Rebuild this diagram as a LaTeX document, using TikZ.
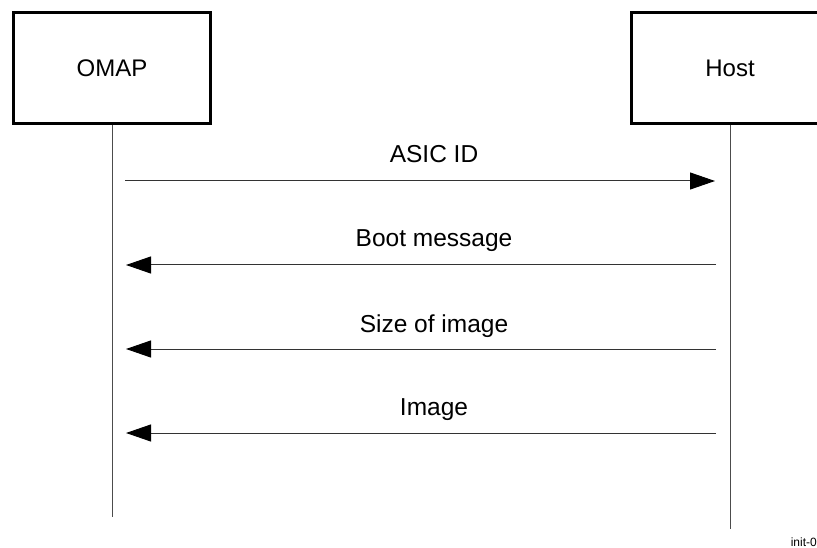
\documentclass[tikz,border=0pt]{standalone}
\usepackage{fontspec}
\setmainfont{Liberation Sans}
\usetikzlibrary{arrows.meta}
\tikzset{
  actor/.style={draw=black, line width=3bp, minimum width=197bp, minimum height=111bp, inner sep=0pt, font=\fontsize{24bp}{28bp}\selectfont},
  lifeline/.style={draw=black!70, line width=1bp},
  msg/.style={draw=black!80, line width=1bp, -{Triangle[length=25bp,width=17bp,color=black]}},
  msglabel/.style={anchor=base, inner sep=0pt, font=\fontsize{24.5bp}{28bp}\selectfont},
  tag/.style={anchor=base east, inner sep=0pt, font=\fontsize{12bp}{14bp}\selectfont}
}
\begin{document}
\begin{tikzpicture}[x=1bp,y=-1bp]
\useasboundingbox (0,0) rectangle (817,548);
\node[actor] (omap) at (112,68) {OMAP};
\node[actor] (host) at (730,68) {Host};
\coordinate (omapend) at (112,517);
\coordinate (hostend) at (730,529);
\draw[lifeline] (omap.south) -- (omapend);
\draw[lifeline] (host.south) -- (hostend);
\coordinate (a1) at (125,181); \coordinate (b1) at (715,181);
\coordinate (a2) at (716,265); \coordinate (b2) at (126,265);
\coordinate (a3) at (716,349); \coordinate (b3) at (126,349);
\coordinate (a4) at (716,433); \coordinate (b4) at (126,433);
\draw[msg] (a1) -- (b1);
\draw[msg] (a2) -- (b2);
\draw[msg] (a3) -- (b3);
\draw[msg] (a4) -- (b4);
\node[msglabel] (l1) at (434,163) {ASIC ID};
\node[msglabel] (l2) at (434,247) {Boot message};
\node[msglabel] (l3) at (434,332) {Size of image};
\node[msglabel] (l4) at (434,415) {Image};
\node[tag] (tag) at (817,546) {init-0};
\end{tikzpicture}
\end{document}
